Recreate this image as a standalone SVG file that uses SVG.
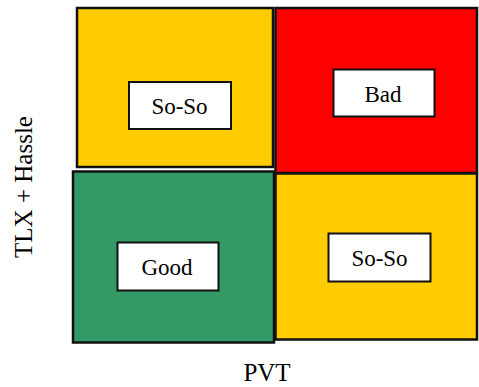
<svg xmlns="http://www.w3.org/2000/svg" width="479" height="387" viewBox="0 0 479 387">
<style>
.q{stroke:#111;stroke-width:2.5}
.lb{fill:#fff;stroke:#111;stroke-width:2}
.t{font-family:"Liberation Serif",serif;font-size:23px;fill:#000;text-anchor:middle}
.ax{font-family:"Liberation Serif",serif;font-size:25px;fill:#000;text-anchor:middle}
</style>
<rect width="479" height="387" fill="#fff"/>
<g id="soso-top">
<rect class="q" x="77" y="8" width="196" height="159" fill="#ffcc00"/>
<rect class="lb" x="129" y="82" width="102" height="47"/>
<text class="t" x="179.5" y="114">So-So</text>
</g>
<g id="bad">
<rect class="q" x="275.5" y="8" width="201.5" height="165" fill="#ff0000"/>
<rect class="lb" x="333.5" y="69.5" width="101" height="47"/>
<text class="t" x="383" y="102">Bad</text>
</g>
<g id="soso-bottom">
<rect class="q" x="275.5" y="173.5" width="201.5" height="166" fill="#ffcc00"/>
<rect class="lb" x="328.5" y="233.5" width="102" height="48"/>
<text class="t" x="379.5" y="266">So-So</text>
</g>
<g id="good">
<rect class="q" x="73" y="171.5" width="201" height="171" fill="#339966"/>
<rect class="lb" x="117.5" y="242.5" width="101" height="48"/>
<text class="t" x="167" y="275">Good</text>
</g>
<g id="axes">
<text class="ax" x="0" y="0" transform="translate(32,187) rotate(-90)">TLX + Hassle</text>
<text class="ax" x="267" y="381">PVT</text>
</g>
<g id="connectors"/>
</svg>
